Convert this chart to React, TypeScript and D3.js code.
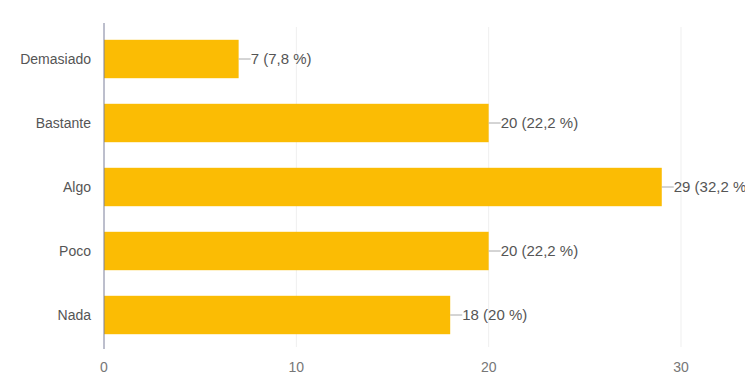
import React from "react";
import * as d3 from "d3";

const categories = ["Demasiado", "Bastante", "Algo", "Poco", "Nada"];
const counts = [7, 20, 29, 20, 18];
const percents = ["7,8", "22,2", "32,2", "22,2", "20"];
const xTicks = [0, 10, 20, 30];

const W = 745;
const H = 383;
const margin = { left: 104, right: 64, top: 27, bottom: 36 };

export default function App() {
  const x = d3.scaleLinear().domain([0, 30]).range([margin.left, W - margin.right]);
  const y = d3
    .scaleBand<string>()
    .domain(categories)
    .range([margin.top, H - margin.bottom])
    .paddingInner(0.4)
    .paddingOuter(0.2);
  const font = "'Liberation Sans', Arial, sans-serif";
  return (
    <svg
      width={W}
      height={H}
      style={{ position: "absolute", left: 0, top: 0, background: "#fff" }}
      fontFamily={font}
    >
      {xTicks.map((t) => (
        <g key={t}>
          {t > 0 && (
            <line x1={x(t)} x2={x(t)} y1={margin.top} y2={H - margin.bottom} stroke="#efefef" strokeWidth={1} />
          )}
          <text x={x(t)} y={372} textAnchor="middle" fontSize={14} fill="#777">
            {t}
          </text>
        </g>
      ))}
      {categories.map((c, i) => {
        const yy = y(c)!;
        const bw = y.bandwidth();
        const xe = x(counts[i]);
        return (
          <g key={c}>
            <rect x={x(0)} y={yy} width={xe - x(0)} height={bw} fill="#fbbc04" />
            <text x={91} y={yy + bw / 2} dy="0.35em" textAnchor="end" fontSize={14} fill="#555">
              {c}
            </text>
            <line x1={xe} x2={xe + 12} y1={yy + bw / 2} y2={yy + bw / 2} stroke="#aaa" strokeWidth={1} />
            <text x={xe + 12} y={yy + bw / 2} dy="0.35em" fontSize={15} fill="#555">
              {`${counts[i]} (${percents[i]} %)`}
            </text>
          </g>
        );
      })}
      <line x1={x(0)} x2={x(0)} y1={margin.top - 4} y2={H - margin.bottom + 2} stroke="#7a7f9a" strokeWidth={1} />
    </svg>
  );
}
